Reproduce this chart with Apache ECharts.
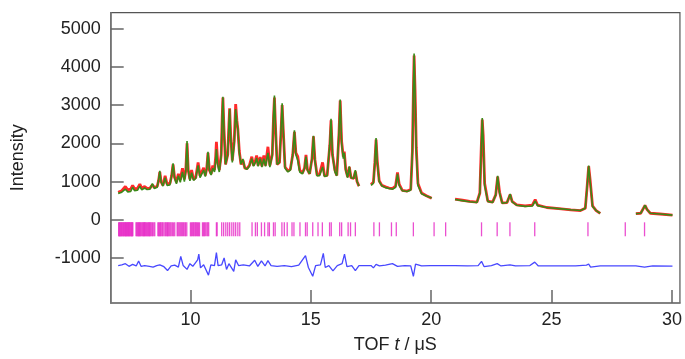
<!DOCTYPE html>
<html><head><meta charset="utf-8">
<script src="https://cdn.jsdelivr.net/npm/echarts@6/dist/echarts.min.js"></script>
<style>html,body{margin:0;padding:0;background:#fff}#c{width:685px;height:359px}</style>
</head><body><div id="c"></div>
<script>
// ---- tick labels ----
const xTicks = [10, 15, 20, 25, 30];
const yTicks = [-1000, 0, 1000, 2000, 3000, 4000, 5000];

// ---- observed / calculated profile, segment 1 ----
const seg1Tof = [7.00,7.15,7.30,7.40,7.52,7.60,7.68,7.80,7.90,7.98,
  8.10,8.20,8.32,8.42,8.50,8.62,8.68,8.73,8.78,8.86,
  8.95,9.03,9.15,9.22,9.28,9.34,9.42,9.50,9.58,9.67,
  9.75,9.81,9.86,9.91,9.98,10.05,10.13,10.22,10.32,10.40,
  10.48,10.55,10.62,10.68,10.73,10.79,10.86,10.93,11.00,11.05,
  11.08,11.13,11.20,11.28,11.32,11.35,11.39,11.46,11.55,11.60,
  11.63,11.67,11.74,11.82,11.88,11.93,11.97,12.03,12.10,12.18,
  12.26,12.35,12.45,12.55,12.62,12.70,12.75,12.81,12.90,12.97,
  13.05,13.12,13.22,13.30,13.40,13.45,13.49,13.53,13.60,13.70,
  13.76,13.81,13.86,13.93,14.05,14.15,14.25,14.32,14.38,14.46,
  14.54,14.65,14.74,14.80,14.86,14.95,15.05,15.11,15.17,15.26,
  15.36,15.49,15.57,15.68,15.79,15.84,15.90,16.00,16.08,16.17,
  16.22,16.28,16.35,16.39,16.45,16.53,16.60,16.67,16.78,16.85,
  16.92,17.00];
const seg1Calc = [690,720,800,730,740,850,760,770,880,780,
  830,790,800,950,820,850,1050,1280,1000,880,
  1100,900,910,1150,1475,1100,940,1150,980,1250,
  1000,1300,2060,1300,1020,1230,1030,1080,1420,1100,
  1120,1300,1130,1350,1780,1300,1170,1350,1250,1550,
  1850,1450,1250,1700,2700,3220,2400,1450,1700,2500,
  2900,2200,1500,2000,2900,2550,2380,1750,1450,1590,
  1350,1320,1400,1600,1400,1500,1620,1400,1600,1380,
  1600,1400,1750,1380,1700,2700,3250,2500,1450,1500,
  2300,3050,2300,1350,1250,1300,1700,2340,1700,1550,
  1250,1200,1350,1650,1300,1200,1600,2200,1550,1150,
  1150,1380,1130,1150,2000,2640,1700,1250,1150,2300,
  3150,2000,1600,1750,1300,1100,1400,1100,1080,1300,
  1000,880];
const seg1Obs = [720,760,870,780,800,900,810,820,930,820,
  870,820,830,910,850,870,1030,1250,1000,900,
  1150,940,950,1150,1450,1120,980,1200,1050,1350,
  1060,1300,2000,1300,1060,1300,1060,1100,1500,1150,
  1150,1360,1160,1350,1750,1300,1200,1420,1300,1650,
  2040,1550,1300,1700,2650,3200,2450,1450,1700,2500,
  2920,2250,1550,2050,3030,2600,2380,1800,1450,1560,
  1350,1340,1420,1650,1420,1560,1680,1420,1640,1400,
  1680,1420,1910,1420,1700,2650,3200,2500,1450,1500,
  2250,3000,2300,1380,1280,1320,1700,2300,1750,1650,
  1300,1220,1350,1700,1320,1200,1600,2180,1580,1170,
  1180,1500,1150,1160,1950,2600,1700,1300,1160,2250,
  3120,2050,1650,1780,1320,1120,1380,1100,1080,1260,
  1000,880];

// ---- segment 2 ----
const seg2Tof = [17.50,17.60,17.66,17.71,17.76,17.84,17.95,18.10,18.25,18.40,18.52,18.60,18.67,18.80,19.00,19.15,19.22,19.26,19.29,19.33,19.38,19.45,19.60,19.80,20.02];
const seg2Calc = [900,960,1500,2140,1500,1000,890,840,820,800,850,1200,900,760,740,780,1800,3400,4350,3300,1800,900,680,620,570];
const seg2Obs = [920,980,1500,2100,1550,1020,900,860,830,820,880,1240,930,770,750,790,1800,3350,4300,3400,1900,950,700,630,560];

// ---- segment 3 ----
const seg3Tof = [20.99,21.30,21.60,21.90,22.02,22.08,22.12,22.16,22.22,22.35,22.55,22.68,22.76,22.84,22.95,23.15,23.28,23.36,23.55,23.90,24.20,24.32,24.42,24.80,25.30,25.80,26.20,26.40,26.48,26.54,26.60,26.70,26.85,27.02];
const seg3Calc = [530,500,470,450,700,1900,2660,2100,900,480,450,650,1150,700,430,450,675,470,380,350,360,490,370,320,290,260,240,300,900,1415,1000,350,240,170];
const seg3Obs = [540,510,480,460,700,1900,2620,2200,950,490,460,650,1130,720,440,450,660,480,390,360,380,525,380,320,290,260,240,300,900,1400,1050,360,240,165];

// ---- segment 4 ----
const seg4Tof = [28.50,28.70,28.80,28.88,28.96,29.10,29.50,30.02];
const seg4Calc = [160,170,280,380,270,170,150,120];
const seg4Obs = [160,170,285,375,270,170,150,120];

// ---- difference curve ----
const diffTof = [7.00,7.15,7.30,7.45,7.60,7.75,7.85,7.95,8.10,8.30,8.45,8.60,8.73,8.90,9.05,9.20,9.35,9.50,9.60,9.70,
  9.86,9.98,10.10,10.30,10.35,10.42,10.55,10.75,10.85,11.00,11.08,11.15,11.30,11.40,11.50,11.60,11.80,11.88,12.00,12.20,
  12.45,12.67,12.80,12.95,13.10,13.22,13.35,13.60,13.90,14.20,14.50,14.78,14.90,15.08,15.20,15.40,15.52,15.60,15.75,15.92,
  16.10,16.30,16.40,16.50,16.70,16.85,17.00,17.50,17.60,17.71,17.85,18.10,18.39,18.60,18.90,19.15,19.26,19.35,19.60,19.96,
  20.99,21.50,21.95,22.09,22.20,22.50,22.74,22.90,23.27,23.50,24.10,24.30,24.45,25.00,26.00,26.45,26.54,26.62,27.02,28.50,
  28.86,29.20,30.02];
const diffI = [-1200,-1180,-1150,-1220,-1170,-1210,-1080,-1220,-1200,-1220,-1240,-1200,-1180,-1230,-1330,-1210,-1190,-1240,-960,-1200,
  -1300,-1150,-1220,-1050,-900,-1260,-1180,-1450,-1180,-1200,-860,-1200,-1180,-1000,-1300,-1150,-1350,-1050,-1200,-1180,
  -1210,-1060,-1220,-1080,-1210,-1070,-1200,-1220,-1200,-1230,-1190,-940,-1250,-1480,-1200,-1180,-880,-1250,-1200,-1340,
  -1200,-1150,-900,-1230,-1200,-1330,-1200,-1200,-1260,-1170,-1210,-1190,-1150,-1220,-1200,-1210,-1480,-1160,-1210,-1200,
  -1200,-1210,-1200,-1090,-1230,-1200,-1150,-1210,-1180,-1210,-1200,-1110,-1210,-1210,-1210,-1190,-1160,-1240,-1210,-1210,
  -1240,-1210,-1215];

// ---- reflection positions ----
const reflTof = [7.02,7.04,7.06,7.08,7.10,7.13,7.15,7.17,7.20,7.22,7.24,7.27,7.29,7.31,7.33,7.35,7.38,7.40,7.42,7.44,
  7.46,7.48,7.50,7.53,7.55,7.57,7.59,7.61,7.74,7.77,7.80,7.83,7.85,7.88,7.90,7.93,7.96,8.00,8.03,8.05,
  8.08,8.10,8.12,8.15,8.18,8.22,8.25,8.28,8.30,8.33,8.36,8.40,8.43,8.48,8.52,8.65,8.68,8.72,8.75,8.78,
  8.82,8.85,8.90,8.95,8.98,9.02,9.05,9.08,9.12,9.16,9.20,9.25,9.30,9.35,9.45,9.48,9.52,9.56,9.60,9.64,
  9.68,9.72,9.77,9.80,9.85,10.00,10.04,10.08,10.12,10.15,10.19,10.22,10.26,10.30,10.34,10.38,10.50,10.54,10.58,10.62,
  10.68,10.72,10.76,11.08,11.11,11.30,11.38,11.47,11.55,11.63,11.72,11.80,11.88,11.97,12.05,12.56,12.70,12.78,12.95,13.08,
  13.22,13.28,13.45,13.52,13.80,13.90,14.02,14.22,14.30,14.55,14.78,14.85,15.08,15.30,15.48,15.78,15.85,16.20,16.28,16.55,
  16.65,16.85,17.62,17.85,18.35,18.55,19.26,20.12,20.60,22.09,22.74,23.27,24.30,26.51,28.06,28.86];
const reflLevel = -251;

function joinSegs(segs) {
  const out = [];
  segs.forEach((s, k) => {
    if (k > 0) out.push([s[0][0], '-']);
    s[0].forEach((t, i) => out.push([t, s[1][i]]));
  });
  return out;
}
const calcData = joinSegs([[seg1Tof, seg1Calc], [seg2Tof, seg2Calc], [seg3Tof, seg3Calc], [seg4Tof, seg4Calc]]);
const obsData = joinSegs([[seg1Tof, seg1Obs], [seg2Tof, seg2Obs], [seg3Tof, seg3Obs], [seg4Tof, seg4Obs]]);
const diffData = diffTof.map((t, i) => [t, diffI[i]]);
const reflData = reflTof.map(t => [t, reflLevel]);

const font = 'Liberation Sans, Arial, Helvetica, sans-serif';
const chart = echarts.init(document.getElementById('c'), null, {renderer: 'canvas'});
chart.setOption({
  animation: false,
  grid: {left: 110.7, right: 3.5, top: 12.7, bottom: 53, show: true, borderColor: '#555', borderWidth: 1.2, backgroundColor: 'transparent'},
  xAxis: {
    type: 'value', min: 6.69, max: 30.33,
    axisLine: {show: true, onZero: false, lineStyle: {color: '#777', width: 1.6}},
    axisTick: {show: true, inside: true, length: 13, customValues: xTicks, lineStyle: {color: '#666', width: 1.5}},
    axisLabel: {customValues: xTicks, margin: 8, color: '#222', fontSize: 18, fontFamily: font, formatter: v => String(v)},
    splitLine: {show: false},
    name: 'TOF {i|t} / μS', nameLocation: 'middle', nameGap: 33,
    nameTextStyle: {color: '#222', fontSize: 18, fontFamily: font,
      rich: {i: {fontStyle: 'italic', fontSize: 18, fontFamily: font, color: '#222'}}}
  },
  yAxis: {
    type: 'value', min: -2180, max: 5420,
    axisLine: {show: true, onZero: false, lineStyle: {color: '#777', width: 1.6}},
    axisTick: {show: true, inside: true, length: 13, customValues: yTicks, lineStyle: {color: '#666', width: 1.5}},
    axisLabel: {customValues: yTicks, margin: 10, color: '#222', fontSize: 18, fontFamily: font, formatter: v => String(v)},
    splitLine: {show: false},
    name: 'Intensity', nameLocation: 'middle', nameGap: 84,
    nameTextStyle: {color: '#222', fontSize: 18, fontFamily: font}
  },
  series: [
    {type: 'line', data: obsData, showSymbol: false, connectNulls: false, z: 2,
      lineStyle: {color: '#ff2a2a', width: 2.8}},
    {type: 'line', data: calcData, showSymbol: false, connectNulls: false, z: 3,
      lineStyle: {color: '#3a8a18', width: 1.6}},
    {type: 'scatter', data: reflData, symbol: 'rect', symbolSize: [1.3, 14], z: 4,
      itemStyle: {color: '#e830c8', opacity: 0.85}},
    {type: 'line', data: diffData, showSymbol: false, z: 4,
      lineStyle: {color: '#4848ff', width: 1.3}}
  ]
});
</script></body></html>
